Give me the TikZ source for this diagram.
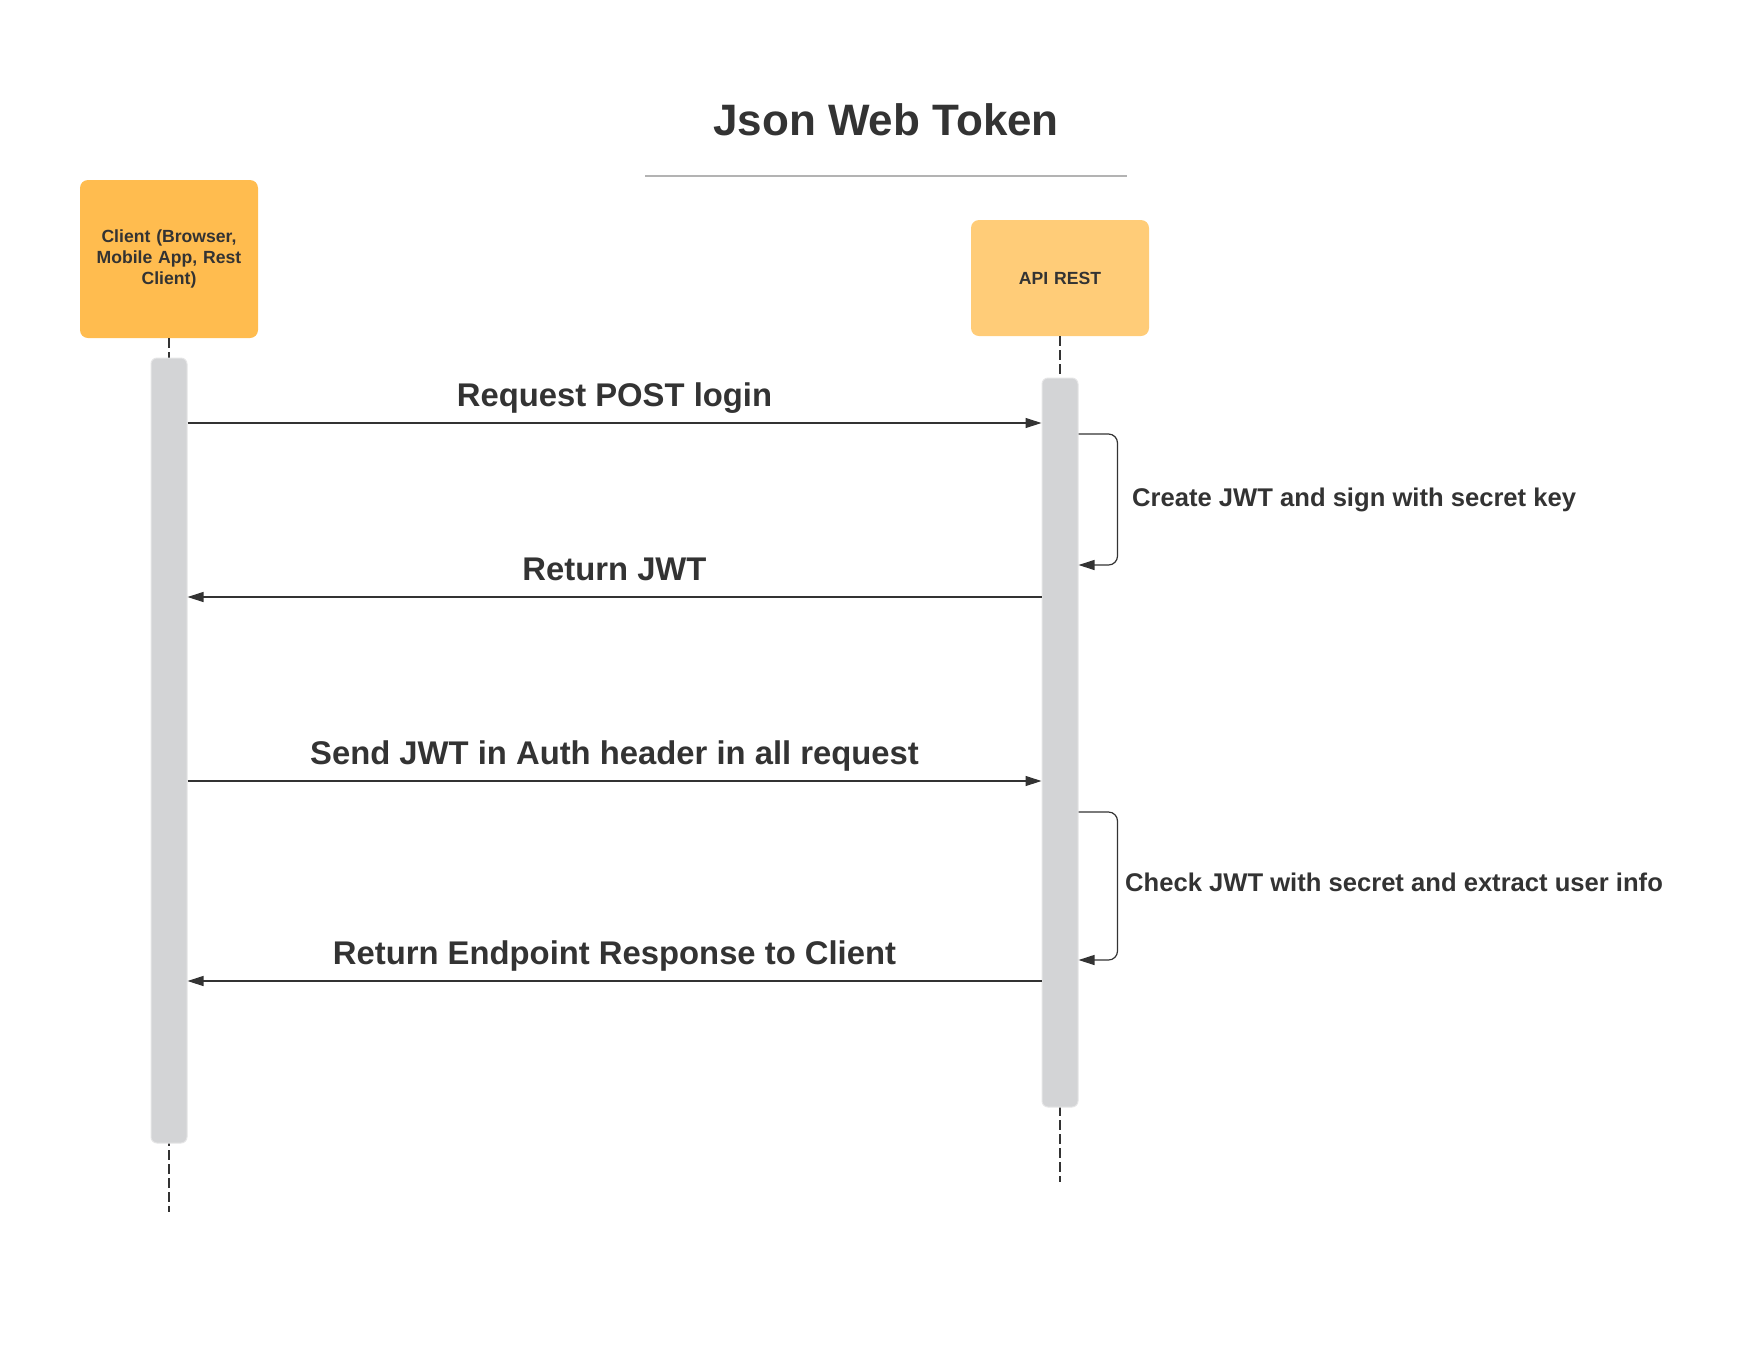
\documentclass[tikz,border=0pt]{standalone}
\usepackage{fontspec}
\setmainfont{Liberation Sans}
\usetikzlibrary{arrows.meta}
\definecolor{ink}{HTML}{333333}
\definecolor{clientfill}{HTML}{FFBC4F}
\definecolor{apifill}{HTML}{FFCC78}
\definecolor{barfill}{HTML}{D3D4D6}
\definecolor{rulegrey}{HTML}{B3B3B3}
\tikzstyle{actor} = [rectangle, rounded corners=8pt, minimum width=178pt, text width=160pt, align=center, inner sep=0pt, text=ink, font=\bfseries\fontsize{17.6}{21}\selectfont]
\tikzstyle{bar} = [rectangle, rounded corners=6pt, fill=barfill, draw=barfill!60!white, line width=1pt, minimum width=36pt, inner sep=0pt]
\tikzstyle{lifeline} = [draw=ink, line width=1.2pt, dash pattern=on 10pt off 4pt]
\tikzstyle{arrow} = [draw=ink, line width=1.2pt, -{Triangle[length=16pt, width=10pt]}]
\tikzstyle{loop} = [arrow, rounded corners=9pt]
\tikzstyle{msg} = [anchor=base, yshift=17pt, text=ink, font=\bfseries\fontsize{32.8}{40}\selectfont]
\tikzstyle{note} = [anchor=base west, inner sep=0pt, text=ink, font=\bfseries\fontsize{25.6}{31}\selectfont]
\begin{document}
\begin{tikzpicture}[x=1pt, y=-1pt]
	\useasboundingbox (0,0) rectangle (1762,1361);

	\node (title) [anchor=base, text=ink, font=\bfseries\fontsize{44}{53}\selectfont] at (886,135) {Json Web Token};
	\draw [rulegrey, line width=2pt] (645,176) -- (1127,176);

	\node (client) [actor, fill=clientfill, minimum height=158pt] at (169,259) {Client (Browser,\\ Mobile App, Rest\\ Client)};
	\node (api) [actor, fill=apifill, minimum height=116pt] at (1060,278) {API REST};

	\coordinate (clientend) at (169,1212);
	\coordinate (apiend) at (1060,1182);
	\draw [lifeline] (client.south) -- (clientend);
	\draw [lifeline] (api.south) -- (apiend);

	\node (clientbar) [bar, minimum height=785pt] at (169,750.5) {};
	\node (apibar) [bar, minimum height=729pt] at (1060,742.5) {};

	\coordinate (m1) at (0,423);
	\coordinate (m2) at (0,597);
	\coordinate (m3) at (0,781);
	\coordinate (m4) at (0,981);
	\coordinate (s1) at (0,434);
	\coordinate (e1) at (0,565);
	\coordinate (s2) at (0,812);
	\coordinate (e2) at (0,960);

	\draw [arrow] (clientbar.east |- m1) -- node[msg] {Request POST login} (apibar.west |- m1);
	\draw [loop] (apibar.east |- s1) -- ++(39,0) -- ++(0,131) -- (apibar.east |- e1);
	\node (create) [note] at (1132,506) {Create JWT and sign with secret key};
	\draw [arrow] (apibar.west |- m2) -- node[msg] {Return JWT} (clientbar.east |- m2);

	\draw [arrow] (clientbar.east |- m3) -- node[msg] {Send JWT in Auth header in all request} (apibar.west |- m3);
	\draw [loop] (apibar.east |- s2) -- ++(39,0) -- ++(0,148) -- (apibar.east |- e2);
	\node (check) [note] at (1125,891) {Check JWT with secret and extract user info};
	\draw [arrow] (apibar.west |- m4) -- node[msg] {Return Endpoint Response to Client} (clientbar.east |- m4);
\end{tikzpicture}
\end{document}
